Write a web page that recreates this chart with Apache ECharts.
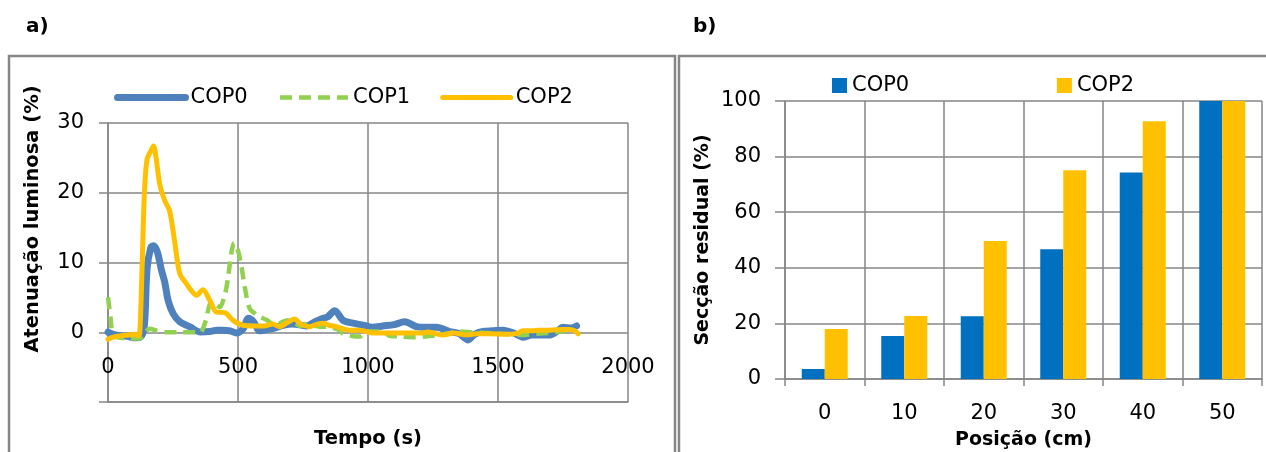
<!DOCTYPE html>
<html>
<head>
<meta charset="utf-8">
<script src="https://cdn.jsdelivr.net/npm/echarts@6/dist/echarts.min.js"></script>
<style>
  html, body { margin: 0; padding: 0; background: #fff; }
  #main { width: 1266px; height: 452px; }
</style>
</head>
<body>
<div id="main"></div>
<script>
// painel a) - atenuação luminosa vs tempo
var cop0Time = [0,20,50,80,100,125,140,150,165,175,190,205,218,231,250,276,314,353,391,420,442,470,494,520,540,560,583,610,640,673,711,763,801,827,845,872,904,942,994,1019,1057,1100,1141,1186,1220,1263,1314,1350,1385,1410,1442,1480,1519,1560,1596,1630,1660,1700,1730,1749,1780,1802];
var cop0Vals = [0,-0.3,-0.5,-0.6,-0.8,-0.7,1,9,12.2,12.4,11.5,9,7.2,4.6,2.7,1.5,0.8,0.05,0.1,0.3,0.3,0.2,-0.1,0.5,2.0,1.5,0.2,0.4,0.6,1.0,1.2,0.9,1.6,2.0,2.2,3.1,1.7,1.3,0.9,0.7,0.9,1.1,1.5,0.8,0.7,0.7,0.1,-0.2,-1.1,-0.3,0.1,0.2,0.3,-0.1,-0.7,-0.4,-0.4,-0.4,0.2,0.7,0.6,0.9];

var cop1Time = [0,10,20,50,80,100,122,140,160,190,225,280,327,353,372,398,415,430,450,462,475,485,500,513,526,545,571,583,609,635,660,686,711,737,763,814,840,891,904,955,968,994,1057,1083,1122,1180,1250,1300,1350,1400,1450,1500,1550,1600,1650,1700,1740,1776];
var cop1Vals = [5.0,2.0,-0.5,-0.8,-0.9,-0.9,-0.9,-0.2,0.5,0.2,0.0,0.0,0.0,-0.1,1.2,4.3,4.0,3.6,5.5,7.9,11.5,12.8,11.7,9.5,6.5,3.4,2.5,2.2,1.8,1.2,1.3,1.7,1.6,0.9,1.1,0.8,0.8,0.3,-0.2,-0.6,-0.6,0.1,0.1,-0.5,-0.6,-0.7,-0.5,-0.2,0.1,0.0,-0.1,-0.2,-0.3,-0.4,-0.2,-0.1,0.1,0.4];

var cop2Time = [0,20,50,80,100,115,122,130,140,150,165,175,185,199,218,237,256,276,301,320,340,365,391,417,449,481,519,560,600,634,660,690,718,740,776,800,828,850,878,930,970,1019,1083,1150,1211,1230,1260,1288,1330,1380,1420,1468,1533,1570,1596,1630,1660,1700,1750,1776,1795,1808];
var cop2Vals = [-1.0,-0.7,-0.5,-0.4,-0.3,-0.5,-0.2,8,20,24.8,26.0,26.7,25,21.2,18.9,17.4,13.1,8.4,7.0,6.0,5.3,6.1,4.6,2.9,2.8,1.7,1.0,0.9,0.9,1.2,0.8,1.4,1.9,1.2,0.8,1.1,1.3,1.0,0.8,0.3,0.3,-0.1,-0.1,-0.1,-0.1,0.05,-0.2,-0.4,-0.1,-0.4,-0.2,-0.2,-0.3,-0.2,0.2,0.2,0.3,0.3,0.4,0.4,0.2,-0.2];

// painel b) - secção residual por posição
var posicoes = ['0','10','20','30','40','50'];
var seccaoCop0 = [3.6,15.5,22.6,46.7,74.3,100];
var seccaoCop2 = [18.0,22.7,49.6,75.1,92.7,100];

function pares(t, v){
  var out = [];
  for (var i = 0; i < t.length; i++) out.push([t[i], v[i]]);
  return out;
}

var fonte = 'DejaVu Sans';
var cinza = '#868686';

var chart = echarts.init(document.getElementById('main'), null, {renderer: 'canvas'});

var option = {
  animation: false,
  textStyle: { fontFamily: fonte },
  graphic: [
    { type: 'rect', shape: { x: 9, y: 56, width: 666, height: 420 }, style: { fill: 'none', stroke: cinza, lineWidth: 2.5 } },
    { type: 'rect', shape: { x: 679, y: 56, width: 600, height: 420 }, style: { fill: 'none', stroke: cinza, lineWidth: 2.5 } },
    { type: 'text', x: 26, y: 27, style: { text: 'a)', font: 'bold 20px DejaVu Sans', fill: '#000', textVerticalAlign: 'middle' } },
    { type: 'text', x: 693, y: 27, style: { text: 'b)', font: 'bold 20px DejaVu Sans', fill: '#000', textVerticalAlign: 'middle' } },
    { type: 'text', x: 33, y: 219, rotation: Math.PI / 2, style: { text: 'Atenuação luminosa (%)', font: 'bold 19.5px DejaVu Sans', fill: '#000', textAlign: 'center', textVerticalAlign: 'middle' } }
  ],
  legend: [
    {
      left: 109, top: 82, itemWidth: 68, itemHeight: 7, itemGap: 30,
      textStyle: { fontSize: 21, color: '#000', fontFamily: fonte },
      itemStyle: { opacity: 0 },
      data: [
        { name: 'COP0', lineStyle: { width: 7, cap: 'round' } },
        { name: 'COP1', lineStyle: { width: 4.5, type: [12, 7] } },
        { name: 'COP2', lineStyle: { width: 5, cap: 'round' } }
      ]
    },
    {
      left: 827, top: 70, itemWidth: 15, itemHeight: 15, itemGap: 141, icon: 'rect',
      textStyle: { fontSize: 21, color: '#000', fontFamily: fonte },
      data: ['COP0 ', 'COP2 ']
    }
  ],
  grid: [
    { left: 108, right: 638, top: 123, bottom: 50, outerBoundsMode: 'none', containLabel: false },
    { left: 785, right: 4, top: 101, bottom: 73, outerBoundsMode: 'none', containLabel: false }
  ],
  xAxis: [
    {
      gridIndex: 0, type: 'value', min: 0, max: 2000, interval: 500,
      name: 'Tempo (s)', nameLocation: 'middle', nameGap: 27,
      nameTextStyle: { fontSize: 19.5, fontWeight: 'bold', color: '#000' },
      axisLine: { onZero: false, lineStyle: { color: cinza, width: 1.5 } },
      axisTick: { show: false },
      axisLabel: { fontSize: 21, color: '#000', margin: -45, formatter: function(v){ return String(v); } },
      splitLine: { show: true, lineStyle: { color: cinza, width: 1.5 } }
    },
    {
      gridIndex: 1, type: 'category', data: posicoes,
      name: 'Posição (cm)', nameLocation: 'middle', nameGap: 52,
      nameTextStyle: { fontSize: 19, fontWeight: 'bold', color: '#000' },
      axisLine: { lineStyle: { color: cinza, width: 1.5 } },
      axisTick: { show: true, length: 7, lineStyle: { color: cinza, width: 1.5 } },
      axisLabel: { fontSize: 21, color: '#000', margin: 24 },
      splitLine: { show: true, lineStyle: { color: cinza, width: 1.5 } }
    }
  ],
  yAxis: [
    {
      gridIndex: 0, type: 'value', min: -10, max: 30, interval: 10,
      axisLine: { show: true, lineStyle: { color: cinza, width: 1.5 } },
      axisTick: { show: true, length: 9, lineStyle: { color: cinza, width: 1.5 } },
      axisLabel: { fontSize: 21, color: '#000', margin: 24,
        formatter: function(v){ return v === -10 ? '' : String(v); } },
      splitLine: { show: true, lineStyle: { color: cinza, width: 1.5 } }
    },
    {
      gridIndex: 1, type: 'value', min: 0, max: 100, interval: 20,
      name: 'Secção residual (%)', nameLocation: 'middle', nameGap: 72,
      nameTextStyle: { fontSize: 19, fontWeight: 'bold', color: '#000' },
      axisLine: { show: true, lineStyle: { color: cinza, width: 1.5 } },
      axisTick: { show: true, length: 10, lineStyle: { color: cinza, width: 1.5 } },
      axisLabel: { fontSize: 21, color: '#000', margin: 24 },
      splitLine: { show: true, lineStyle: { color: cinza, width: 1.5 } }
    }
  ],
  series: [
    {
      name: 'COP0', type: 'line', xAxisIndex: 0, yAxisIndex: 0,
      data: pares(cop0Time, cop0Vals), showSymbol: false, symbol: 'none', smooth: 0.3,
      lineStyle: { color: '#4F81BD', width: 7, cap: 'round', join: 'round' },
      itemStyle: { color: '#4F81BD' }
    },
    {
      name: 'COP1', type: 'line', xAxisIndex: 0, yAxisIndex: 0,
      data: pares(cop1Time, cop1Vals), showSymbol: false, symbol: 'none', smooth: 0.3,
      lineStyle: { color: '#92D050', width: 4.5, type: [12, 7] },
      itemStyle: { color: '#92D050' }
    },
    {
      name: 'COP2', type: 'line', xAxisIndex: 0, yAxisIndex: 0,
      data: pares(cop2Time, cop2Vals), showSymbol: false, symbol: 'none', smooth: 0.3,
      lineStyle: { color: '#FFC000', width: 5, cap: 'round', join: 'round' },
      itemStyle: { color: '#FFC000' }
    },
    {
      name: 'COP0 ', type: 'bar', xAxisIndex: 1, yAxisIndex: 1,
      data: seccaoCop0, barWidth: 23, barGap: '0%',
      itemStyle: { color: '#0070C0' }
    },
    {
      name: 'COP2 ', type: 'bar', xAxisIndex: 1, yAxisIndex: 1,
      data: seccaoCop2, barWidth: 23, barGap: '0%',
      itemStyle: { color: '#FFC000' }
    }
  ]
};

chart.setOption(option);
</script>
</body>
</html>
